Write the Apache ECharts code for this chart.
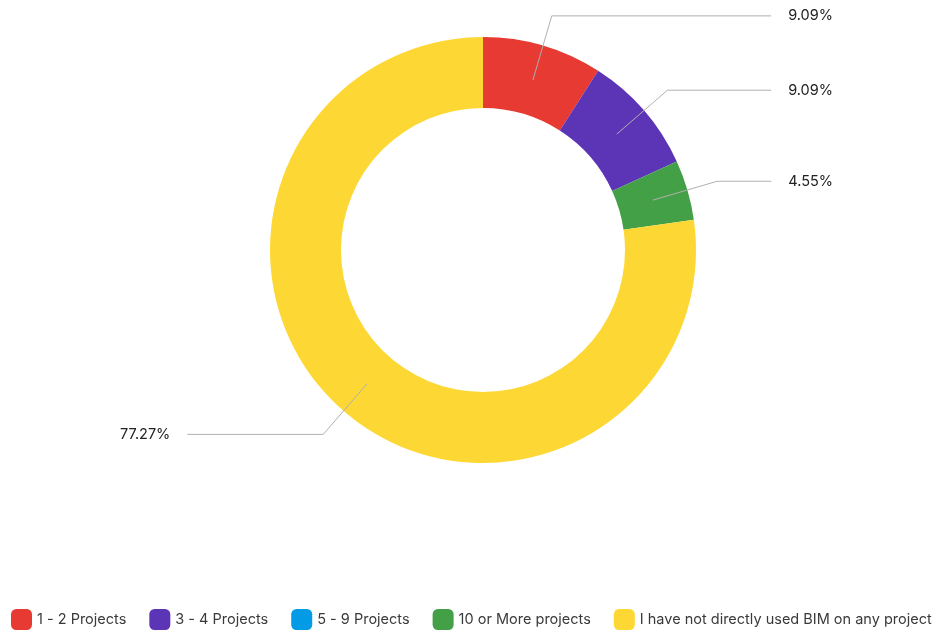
<!DOCTYPE html>
<html>
<head>
<meta charset="utf-8">
<title>BIM projects</title>
<script src="https://cdn.jsdelivr.net/npm/echarts@6/dist/echarts.min.js"></script>
<style>
  html, body { margin: 0; padding: 0; background: #fff; }
  #chart { width: 939px; height: 632px; }
</style>
</head>
<body>
<div id="chart"></div>
<script>
// dane
const categories = ["1 - 2 Projects", "3 - 4 Projects", "5 - 9 Projects", "10 or More projects", "I have not directly used BIM on any project"];
const counts = [2, 2, 0, 1, 17];
const colors = ["#e63a32", "#5c34b6", "#039be5", "#43a047", "#fdd835"];

const chart = echarts.init(document.getElementById("chart"));

const ringData = categories.map((name, i) => ({
    name: name,
    value: counts[i],
    itemStyle: { color: colors[i] }
}));

// druga, przezroczysta seria - linie etykiet zaczynają się w środku pierścienia
const labelData = categories.map((name, i) => ({
    name: name,
    value: counts[i],
    label: { show: counts[i] > 0 },
    labelLine: { show: counts[i] > 0 }
}));

const option = {
    animation: false,
    legend: {
        bottom: -3,
        left: 6,
        itemWidth: 21,
        itemHeight: 21,
        itemGap: 23,
        icon: "roundRect",
        textStyle: { fontFamily: "Inter", fontSize: 14.5, color: "#3a3a3a" },
        data: categories
    },
    series: [
        {
            type: "pie",
            z: 2,
            center: [483, 250],
            radius: [142, 213],
            startAngle: 90,
            label: { show: false },
            labelLine: { show: false },
            emphasis: { disabled: true },
            silent: true,
            data: ringData
        },
        {
            type: "pie",
            z: 5,
            left: 14,
            right: 0,
            top: 0,
            bottom: 0,
            center: [469, 250],
            radius: 177,
            startAngle: 90,
            silent: true,
            emphasis: { disabled: true },
            itemStyle: { color: "transparent", borderWidth: 0 },
            label: {
                show: true,
                formatter: "{d}%",
                fontFamily: "Inter",
                fontSize: 14.5,
                color: "#222",
                alignTo: "edge",
                edgeDistance: 106,
                distanceToLabelLine: 17
            },
            labelLine: {
                show: true,
                length: 67,
                length2: 30,
                lineStyle: { color: "#b0b0b0", width: 1 }
            },
            data: labelData
        }
    ]
};

chart.setOption(option);
</script>
</body>
</html>
